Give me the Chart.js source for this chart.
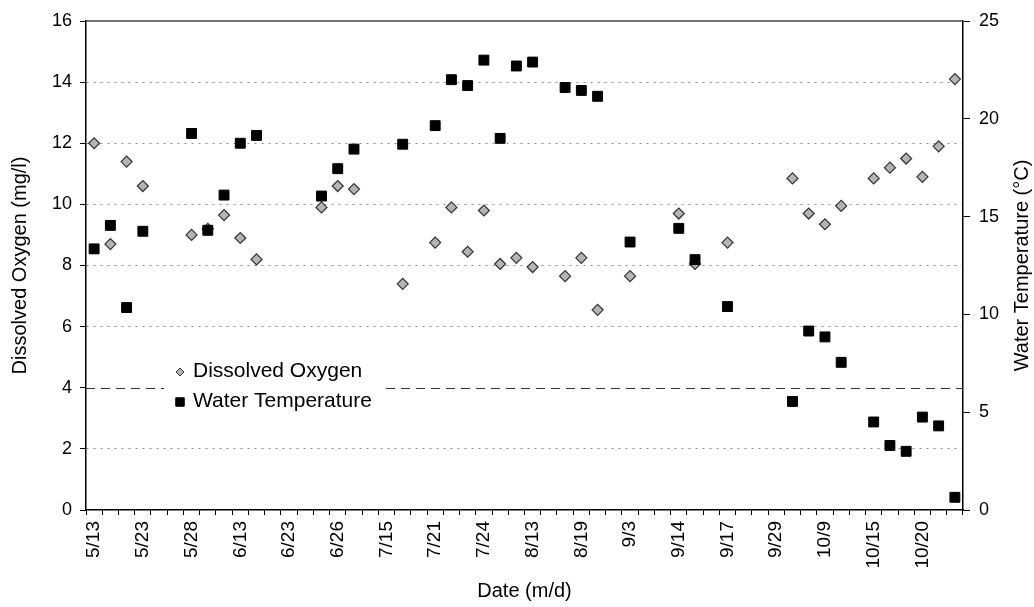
<!DOCTYPE html>
<html lang="en">
<head>
  <meta charset="UTF-8">
  <title>Dissolved Oxygen and Water Temperature</title>
  <script src="https://cdn.jsdelivr.net/npm/chart.js"></script>
  <style>
    html, body { margin: 0; padding: 0; background: #fff; }
    #wrap { width: 1034px; height: 607px; }
  </style>
</head>
<body>
  <div id="wrap"><canvas id="chart"></canvas></div>

  <script>
    // one date label for every third sample
    const dateLabels = ['5/13', '5/23', '5/28', '6/13', '6/23', '6/26', '7/15', '7/21', '7/24',
                        '8/13', '8/19', '9/3', '9/14', '9/17', '9/29', '10/9', '10/15', '10/20'];

    // dissolved oxygen, mg/l (null = not sampled)
    const oxygen = [
      12.0, 8.7, 11.4, 10.6, null, null, 9.0, 9.2, 9.65, 8.9,
      8.2, null, null, null, 9.9, 10.6, 10.5, null, null, 7.4,
      null, 8.75, 9.9, 8.45, 9.8, 8.05, 8.25, 7.95, null, 7.65,
      8.25, 6.55, null, 7.65, null, null, 9.7, 8.05, null, 8.75,
      null, null, null, 10.85, 9.7, 9.35, 9.95, null, 10.85, 11.2,
      11.5, 10.9, 11.9, 14.1
    ];

    // water temperature, deg C
    const waterTemp = [
      13.35, 14.55, 10.35, 14.25, null, null, 19.25, 14.3, 16.1, 18.75,
      19.15, null, null, null, 16.05, 17.45, 18.45, null, null, 18.7,
      null, 19.65, 22.0, 21.7, 23.0, 19.0, 22.7, 22.9, null, 21.6,
      21.45, 21.15, null, 13.7, null, null, 14.4, 12.8, null, 10.4,
      null, null, null, 5.55, 9.15, 8.85, 7.55, null, 4.5, 3.3,
      3.0, 4.75, 4.3, 0.65
    ];

    const doStandard = 4;   // mg/l minimum

    const categories = oxygen.map((_, i) => (i % 3 === 0 ? dateLabels[i / 3] : ''));

    const FONT = '"Liberation Sans", Arial, sans-serif';
    Chart.defaults.font.family = FONT;
    Chart.defaults.color = '#000';

    const doStyle = { pointStyle: 'rectRot', radius: 5.5, backgroundColor: '#b4b4b4', borderColor: '#333', borderWidth: 1.2 };
    const wtStyle = { pointStyle: 'rect', radius: 7, backgroundColor: '#000', borderColor: '#000', borderWidth: 1 };

    // reference line, legend box and right axis title
    const extras = {
      id: 'extras',
      beforeDatasetsDraw(chart) {
        const { ctx, chartArea: a, scales: { y } } = chart;
        ctx.save();
        ctx.strokeStyle = '#444';
        ctx.lineWidth = 1.5;
        ctx.beginPath();
        ctx.moveTo(a.left, a.top);
        ctx.lineTo(a.right, a.top);
        ctx.stroke();

        const ys = Math.round(y.getPixelForValue(doStandard)) + 0.5;
        ctx.strokeStyle = '#333';
        ctx.lineWidth = 1.2;
        ctx.setLineDash([9, 6]);
        ctx.beginPath();
        ctx.moveTo(a.left, ys);
        ctx.lineTo(a.right, ys);
        ctx.stroke();
        ctx.restore();
      },
      afterDatasetsDraw(chart) {
        const { ctx } = chart;
        ctx.save();
        ctx.fillStyle = '#fff';
        ctx.fillRect(164, 350, 220, 68);

        ctx.font = '21px ' + FONT;
        ctx.textBaseline = 'middle';
        ctx.textAlign = 'left';

        ctx.fillStyle = doStyle.backgroundColor;
        ctx.strokeStyle = doStyle.borderColor;
        ctx.lineWidth = 1;
        Chart.helpers.drawPoint(ctx, { pointStyle: 'rectRot', radius: 4, borderWidth: 1 }, 180, 372);
        ctx.fillStyle = '#000';
        ctx.fillText('Dissolved Oxygen', 193, 371);

        ctx.fillStyle = '#000';
        ctx.strokeStyle = '#000';
        Chart.helpers.drawPoint(ctx, { pointStyle: 'rect', radius: 6, borderWidth: 1 }, 180, 402);
        ctx.fillText('Water Temperature', 193, 401);
        ctx.restore();
      },
      afterDraw(chart) {
        const { ctx, chartArea: a } = chart;
        ctx.save();
        ctx.translate(1022, (a.top + a.bottom) / 2);
        ctx.rotate(-Math.PI / 2);
        ctx.font = '20px ' + FONT;
        ctx.fillStyle = '#000';
        ctx.textAlign = 'center';
        ctx.textBaseline = 'middle';
        ctx.fillText('Water Temperature (°C)', 0, 0);
        ctx.restore();
      }
    };

    const ctx = document.getElementById('chart').getContext('2d');
    const chart = new Chart(ctx, {
      type: 'line',
      data: {
        labels: categories,
        datasets: [
          {
            label: 'Dissolved Oxygen',
            data: oxygen,
            yAxisID: 'y',
            showLine: false,
            order: 2,
            pointStyle: doStyle.pointStyle,
            pointRadius: doStyle.radius,
            pointBackgroundColor: doStyle.backgroundColor,
            pointBorderColor: doStyle.borderColor,
            pointBorderWidth: doStyle.borderWidth
          },
          {
            label: 'Water Temperature',
            data: waterTemp,
            yAxisID: 'y1',
            showLine: false,
            order: 1,
            pointStyle: wtStyle.pointStyle,
            pointRadius: wtStyle.radius,
            pointBackgroundColor: wtStyle.backgroundColor,
            pointBorderColor: wtStyle.borderColor,
            pointBorderWidth: wtStyle.borderWidth
          }
        ]
      },
      options: {
        responsive: true,
        maintainAspectRatio: false,
        animation: false,
        layout: { padding: { top: 21, left: 0, right: 0, bottom: 0 } },
        plugins: {
          legend: { display: false },
          tooltip: { enabled: false }
        },
        scales: {
          x: {
            type: 'category',
            offset: true,
            grid: { offset: true, drawOnChartArea: false, color: '#000', tickLength: 5 },
            border: { color: '#000', width: 1.5 },
            ticks: { autoSkip: false, minRotation: 90, maxRotation: 90, padding: 6, font: { size: 19 } },
            title: { display: true, text: 'Date (m/d)', font: { size: 20 }, padding: { top: 0, bottom: 4 } },
            afterFit: s => { s.height = 97; }
          },
          y: {
            position: 'left',
            min: 0,
            max: 16,
            ticks: { stepSize: 2, padding: 8, font: { size: 18 } },
            grid: {
              color: c => ([0, doStandard, 16].includes(c.tick.value) ? 'rgba(0,0,0,0)' : '#8c8c8c'),
              tickColor: '#000',
              tickLength: 6,
              lineWidth: 1
            },
            border: { color: '#000', width: 1.5, dash: [2, 5] },
            title: { display: true, text: 'Dissolved Oxygen (mg/l)', font: { size: 20 }, padding: { top: 8 } },
            afterFit: s => { s.width = 86; }
          },
          y1: {
            position: 'right',
            min: 0,
            max: 25,
            ticks: { stepSize: 5, padding: 9, font: { size: 18 } },
            grid: { drawOnChartArea: false, color: '#000', tickLength: 7 },
            border: { color: '#000', width: 1.5 },
            afterFit: s => { s.width = 71; }
          }
        }
      },
      plugins: [extras]
    });
  </script>
</body>
</html>
